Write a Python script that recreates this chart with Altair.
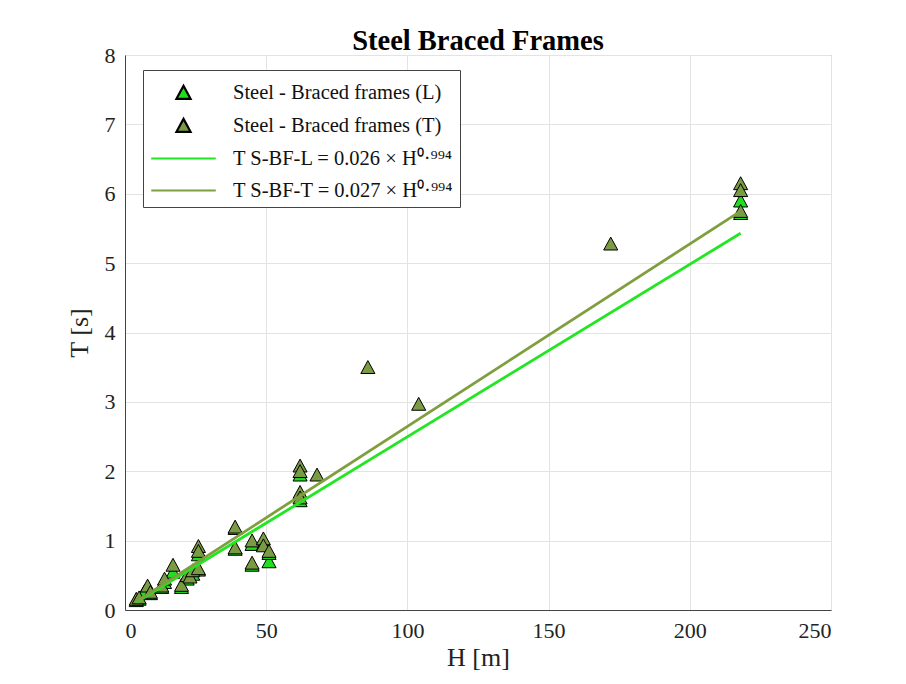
import altair as alt
import pandas as pd

# Data
L_H = [4, 5, 7, 9, 13, 14, 17, 20, 22, 24, 26, 26, 39, 39, 45, 45, 49, 51, 51, 62, 62, 218, 218]
L_T = [0.14, 0.16, 0.28, 0.24, 0.33, 0.40, 0.55, 0.33, 0.45, 0.52, 0.80, 0.58, 1.18, 0.88, 0.95, 0.65,
       0.95, 0.70, 0.82, 1.58, 1.95, 5.90, 5.72]
T_H = [4, 5, 8, 9, 13, 14, 17, 20, 22, 23, 24, 26, 26, 26, 39, 39, 45, 45, 49, 49, 51, 62, 62, 62, 62,
       68, 86, 104, 172, 218, 218, 218]
T_T = [0.16, 0.18, 0.35, 0.26, 0.35, 0.45, 0.65, 0.36, 0.50, 0.48, 0.57, 0.92, 0.85, 0.60, 1.20, 0.90,
       1.00, 0.68, 1.03, 0.93, 0.85, 2.08, 2.00, 1.70, 1.62, 1.95, 3.50, 2.97, 5.28, 6.15, 6.05, 5.75]

FIT_H = [4, 218]
FIT_L_T = [0.11, 5.43]
FIT_T_T = [0.12, 5.75]

SERIES = [
    "Steel - Braced frames (L)",
    "Steel - Braced frames (T)",
    "T S-BF-L = 0.026 × H⁰·⁹⁹⁴",
    "T S-BF-T = 0.027 × H⁰·⁹⁹⁴",
]

pts = pd.DataFrame(
    {"H": L_H + T_H, "T": L_T + T_T,
     "series": [SERIES[0]] * len(L_H) + [SERIES[1]] * len(T_H),
     "ord": [0] * len(L_H) + [1] * len(T_H)}
)
fit = pd.DataFrame(
    {"H": FIT_H + FIT_H, "T": FIT_L_T + FIT_T_T,
     "series": [SERIES[2]] * 2 + [SERIES[3]] * 2}
)

GREEN = "#1fe01f"
OLIVE = "#7a9a44"
SYM = 900  # 30px symbol box
TRI = "M0,-0.44L0.47,0.42L-0.47,0.42Z"
DASH = "M-2.15,0L2.15,0"

fill_scale = alt.Scale(domain=SERIES, range=[GREEN, OLIVE, GREEN, OLIVE])
stroke_scale = alt.Scale(domain=SERIES, range=["#000000", "#000000", "#22e622", "#7f9f3f"])
shape_scale = alt.Scale(domain=SERIES, range=[TRI, TRI, DASH, DASH])

xenc = alt.X("H:Q", scale=alt.Scale(domain=[0, 250], nice=False),
             axis=alt.Axis(values=[0, 50, 100, 150, 200, 250], title="H [m]"))
yenc = alt.Y("T:Q", scale=alt.Scale(domain=[0, 8], nice=False),
             axis=alt.Axis(values=list(range(9)), title="T [s]"))

legend = alt.Legend(
    title=None, orient="none", legendX=18, legendY=15,
    fillColor="white", strokeColor="#444444", padding=6,
    labelFontSize=20.5, labelFont="Liberation Serif", labelLimit=500,
    symbolStrokeWidth=2.2, symbolSize=SYM, rowPadding=5, labelColor="#111111",
    symbolOffset=18, labelOffset=33,
)

points = alt.Chart(pts).mark_point(filled=True, opacity=1, strokeWidth=1, size=SYM).encode(
    x=xenc, y=yenc,
    fill=alt.Fill("series:N", scale=fill_scale, legend=legend),
    stroke=alt.Stroke("series:N", scale=stroke_scale, legend=legend),
    shape=alt.Shape("series:N", scale=shape_scale, legend=legend),
    order=alt.Order("ord:Q"),
)

lines = alt.Chart(fit).mark_line(strokeWidth=2.8).encode(
    x=xenc, y=yenc,
    stroke=alt.Stroke("series:N", scale=stroke_scale, legend=legend),
    detail="series:N",
)

chart = alt.layer(points, lines).properties(
    width=706, height=555,
    title=alt.TitleParams("Steel Braced Frames", font="Liberation Serif", fontSize=28.5,
                          fontWeight="bold", color="#000000", offset=-11, frame="group"),
    autosize=alt.AutoSizeParams(type="none"),
    padding={"left": 117, "top": 47, "right": 60, "bottom": 64},
).configure(
    font="Liberation Serif",
).configure_axis(
    labelFont="Liberation Serif", labelFontSize=22, labelColor="#222222",
    titleFont="Liberation Serif", titleFontSize=26, titleFontWeight="normal", titleColor="#222222",
    gridColor="#e3e3e3", gridWidth=1, domainColor="#444444", ticks=False, labelPadding=10,
).configure_axisX(titlePadding=3).configure_axisY(titlePadding=12).configure_view(
    stroke="#9a9a9a", strokeWidth=1
)

chart.save("out.html", embed_options={"renderer": "svg", "actions": False})
